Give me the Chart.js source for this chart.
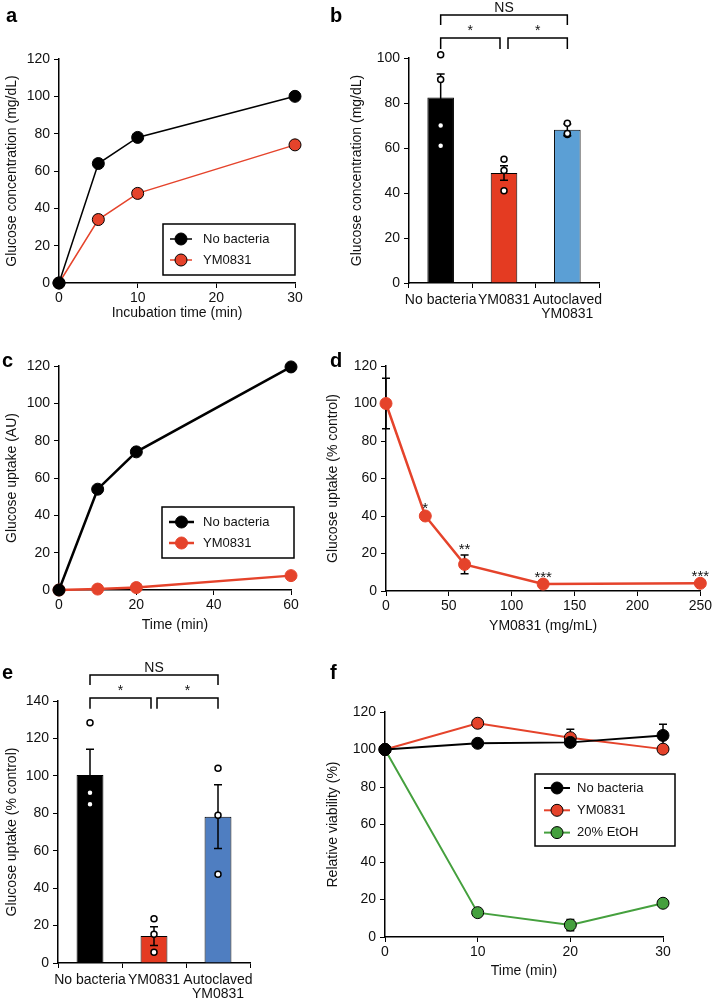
<!DOCTYPE html>
<html>
<head>
<meta charset="utf-8">
<script src="https://cdn.jsdelivr.net/npm/chart.js@4.4.1/dist/chart.umd.min.js"></script>
<style>
  html, body { margin: 0; padding: 0; background: #fff; }
  #fig { position: relative; width: 714px; height: 1002px; overflow: hidden; }
  #fig canvas { position: absolute; }
  .tag { position: absolute; font: bold 20px 'Liberation Sans', Arial, sans-serif; line-height: 20px; color: #000; }
</style>
</head>
<body>
<div id="fig">
  <canvas id="chartA"></canvas>
  <canvas id="chartB"></canvas>
  <canvas id="chartC"></canvas>
  <canvas id="chartD"></canvas>
  <canvas id="chartE"></canvas>
  <canvas id="chartF"></canvas>
  <div class="tag" style="left:6px;top:5px">a</div>
  <div class="tag" style="left:330px;top:5px">b</div>
  <div class="tag" style="left:2px;top:350px">c</div>
  <div class="tag" style="left:330px;top:350px">d</div>
  <div class="tag" style="left:2px;top:662px">e</div>
  <div class="tag" style="left:330px;top:662px">f</div>
</div>
<script>
// ---- data ----
// a: glucose in medium
const timeA = [0, 5, 10, 30];
const glucoseNoBacteriaA = [0, 64, 78, 100];
const glucoseYM0831A = [0, 34, 48, 74];

// b: glucose after incubation
const groups = ['No bacteria', 'YM0831', 'Autoclaved\nYM0831'];
const meanB = [82.5, 48.9, 68.1];
const semB = [10.4, 3.2, 2.6];
const dotsNoBacteriaB = [101.5, 90.5, 70, 61];
const dotsYM0831B = [55, 50, 41];
const dotsAutoclavedB = [71, 66, 66.5];

// c: glucose uptake time course
const timeC = [0, 10, 20, 60];
const uptakeNoBacteriaC = [0, 54, 74, 119.5];
const uptakeYM0831C = [0, 0.5, 1.3, 7.7];

// d: dose response
const doseD = [0, 31.25, 62.5, 125, 250];
const uptakeD = [100, 40, 14.2, 3.7, 4.1];
const semD = [13.5, 1, 5, 0.5, 0.5];
const starsD = ['', '*', '**', '***', '***'];

// e: glucose uptake
const meanE = [100.5, 14.4, 78.2];
const semE = [13.7, 5, 17];
const dotsNoBacteriaE = [128.4, 91, 84.8];
const dotsYM0831E = [23.7, 15.3, 5.7];
const dotsAutoclavedE = [104, 78.9, 47.4];

// f: viability
const timeF = [0, 10, 20, 30];
const viabNoBacteriaF = [100, 103.3, 103.8, 107.5];
const viabYM0831F = [100, 114, 106.3, 100.2];
const viabEtOHF = [100, 13, 6.4, 18];
const semNoBacteriaF = [0, 1.5, 1.5, 6];
const semYM0831F = [0, 1.5, 4.5, 1.5];
const semEtOHF = [0, 1, 3, 1];

// ---- styling ----
const FONT = "'Liberation Sans', Arial, Helvetica, sans-serif";
Chart.defaults.font.family = FONT;
Chart.defaults.font.size = 14;
Chart.defaults.color = '#111';
Chart.defaults.animation = false;

const BLACK = '#000000';
const RED = '#e5432b';
const RED_BAR = '#e43b22';
const BLUE_B = '#5b9fd5';
const BLUE_E = '#4f7ec1';
const GREEN = '#45a03e';

// significance brackets (levels in axis units)
const bracketsB = [
  { from: 0, to: 2, level: 119.1, drop: 4.4, text: 'NS' },
  { from: 0, to: 1, insetTo: 4, level: 108.9, drop: 4.9, text: '*' },
  { from: 1, to: 2, insetFrom: 4, level: 108.9, drop: 4.9, text: '*' }
];
const bracketsE = [
  { from: 0, to: 2, level: 153.9, drop: 5.3, text: 'NS' },
  { from: 0, to: 1, insetTo: 3, level: 141.6, drop: 5.8, text: '*' },
  { from: 1, to: 2, insetFrom: 3, level: 141.6, drop: 5.8, text: '*' }
];

function place(id, box, area) {
  const c = document.getElementById(id);
  c.width = box.w; c.height = box.h;
  c.style.left = box.x + 'px'; c.style.top = box.y + 'px';
  return {
    canvas: c,
    padding: { left: 0, top: area.y0 - box.y, right: box.x + box.w - area.x1, bottom: 0 },
    yWidth: area.x0 - box.x,
    xHeight: box.y + box.h - area.y1
  };
}

function axis(fit, dir, o) {
  const s = {
    type: o.type || 'linear',
    offset: !!o.offset,
    border: { display: true, color: '#000', width: 1.5 },
    grid: { drawOnChartArea: false, drawTicks: true, tickLength: 5, color: '#000', lineWidth: 1, offset: !!o.offset },
    ticks: { color: '#111', font: { size: 14 }, padding: dir === 'x' ? 2 : 4, maxRotation: 0, autoSkip: false },
    title: { display: !!o.title, text: o.title || '', color: '#111', font: { size: 14 }, padding: { top: 4, bottom: 4 } },
    afterFit: dir === 'x' ? (sc) => { sc.height = fit.xHeight; } : (sc) => { sc.width = fit.yWidth; }
  };
  if (o.min !== undefined) s.min = o.min;
  if (o.max !== undefined) s.max = o.max;
  if (o.step !== undefined) s.ticks.stepSize = o.step;
  if (o.type === 'category') {
    s.ticks.padding = 5;
    s.ticks.font = { size: 14, lineHeight: 1.0 };
    s.ticks.callback = function (v) { return this.getLabelForValue(v).split('\n'); };
  }
  return s;
}

function lineSet(label, xs, ys, color, extra) {
  return Object.assign({
    label: label,
    data: xs.map((x, i) => ({ x: x, y: ys[i] })),
    borderColor: color, backgroundColor: color,
    pointBackgroundColor: color, pointBorderColor: '#000', pointBorderWidth: 1,
    pointRadius: 6, borderWidth: 1.5, clip: false, tension: 0
  }, extra || {});
}

function dotSet(lists) {
  const pts = [];
  lists.forEach((vals, i) => vals.forEach(v => pts.push({ x: groups[i], y: v })));
  return {
    type: 'scatter', label: 'points', data: pts,
    pointRadius: 3, pointBackgroundColor: '#fff', pointBorderColor: '#000', pointBorderWidth: 1.5,
    order: 1, clip: false
  };
}

function barSet(means, colors) {
  return {
    type: 'bar', label: 'mean', data: means,
    backgroundColor: colors, borderColor: '#000', borderWidth: 1,
    barPercentage: 0.42, categoryPercentage: 1, order: 2
  };
}

// ---- plugins ----
function drawErr(chart, set) {
  const meta = chart.getDatasetMeta(set.dataset);
  const ys = chart.scales.y, ctx = chart.ctx;
  const vals = chart.data.datasets[set.dataset].data;
  ctx.save();
  ctx.strokeStyle = set.color || '#000';
  ctx.lineWidth = 1.5;
  meta.data.forEach((el, i) => {
    const e = set.err[i];
    if (!e) return;
    const v = typeof vals[i] === 'object' ? vals[i].y : vals[i];
    const top = ys.getPixelForValue(v + e), bot = ys.getPixelForValue(v - e);
    const x = el.x, cap = set.cap || 4;
    ctx.beginPath();
    ctx.moveTo(x, top); ctx.lineTo(x, bot);
    ctx.moveTo(x - cap, top); ctx.lineTo(x + cap, top);
    ctx.moveTo(x - cap, bot); ctx.lineTo(x + cap, bot);
    ctx.stroke();
  });
  ctx.restore();
}

const errorBars = {
  id: 'errorBars',
  beforeDatasetsDraw(chart, args, o) {
    if (o.behind && o.sets) o.sets.forEach(s => drawErr(chart, s));
  },
  afterDatasetDraw(chart, args, o) {
    if (!o.behind && o.sets) o.sets.filter(s => s.dataset === args.index).forEach(s => drawErr(chart, s));
  }
};

const brackets = {
  id: 'brackets',
  afterDraw(chart, args, o) {
    if (!o.items) return;
    const xs = chart.scales.x, ys = chart.scales.y, ctx = chart.ctx;
    ctx.save();
    ctx.strokeStyle = '#000'; ctx.lineWidth = 1.5;
    ctx.fillStyle = '#111'; ctx.font = '14px ' + FONT;
    ctx.textAlign = 'center'; ctx.textBaseline = 'alphabetic';
    o.items.forEach(b => {
      const x1 = xs.getPixelForValue(b.from) + (b.insetFrom || 0);
      const x2 = xs.getPixelForValue(b.to) - (b.insetTo || 0);
      const yl = ys.getPixelForValue(b.level), yd = ys.getPixelForValue(b.level - b.drop);
      ctx.beginPath();
      ctx.moveTo(x1, yd); ctx.lineTo(x1, yl); ctx.lineTo(x2, yl); ctx.lineTo(x2, yd);
      ctx.stroke();
      ctx.fillText(b.text, (x1 + x2) / 2, yl - 3);
    });
    ctx.restore();
  }
};

const starLabels = {
  id: 'starLabels',
  afterDatasetsDraw(chart, args, o) {
    if (!o.labels) return;
    const meta = chart.getDatasetMeta(0), ys = chart.scales.y, ctx = chart.ctx;
    const data = chart.data.datasets[0].data;
    ctx.save();
    ctx.fillStyle = '#111'; ctx.font = '15px ' + FONT;
    ctx.textAlign = 'center'; ctx.textBaseline = 'alphabetic';
    meta.data.forEach((el, i) => {
      if (!o.labels[i]) return;
      const y = ys.getPixelForValue(data[i].y + o.err[i]) - 1;
      ctx.fillText(o.labels[i], el.x, y);
    });
    ctx.restore();
  }
};

const boxLegend = {
  id: 'boxLegend',
  afterDraw(chart, args, o) {
    if (!o.box) return;
    const ctx = chart.ctx, ca = chart.chartArea;
    const x = ca.left + o.box[0], y = ca.top + o.box[1];
    ctx.save();
    ctx.fillStyle = '#fff';
    ctx.fillRect(x, y, o.box[2], o.box[3]);
    ctx.strokeStyle = '#000'; ctx.lineWidth = 1.5;
    ctx.strokeRect(x, y, o.box[2], o.box[3]);
    chart.data.datasets.forEach((ds, i) => {
      const cy = y + o.first + i * o.rowH;
      const lx = x + o.pad;
      ctx.strokeStyle = ds.borderColor; ctx.lineWidth = ds.borderWidth;
      ctx.beginPath(); ctx.moveTo(lx, cy); ctx.lineTo(lx + o.lineLen, cy); ctx.stroke();
      ctx.beginPath(); ctx.arc(lx + o.lineLen / 2, cy, ds.pointRadius, 0, Math.PI * 2);
      ctx.fillStyle = ds.pointBackgroundColor; ctx.fill();
      ctx.lineWidth = ds.pointBorderWidth; ctx.strokeStyle = ds.pointBorderColor; ctx.stroke();
      ctx.fillStyle = '#111'; ctx.font = '13px ' + FONT; ctx.textBaseline = 'middle'; ctx.textAlign = 'left';
      ctx.fillText(ds.label, lx + o.lineLen + o.gap, cy);
    });
    ctx.restore();
  }
};

const allPlugins = [errorBars, brackets, starLabels, boxLegend];

function opts(fit, scales, extra) {
  return {
    responsive: false,
    animation: false,
    layout: { padding: fit.padding },
    scales: scales,
    plugins: Object.assign({ legend: { display: false }, tooltip: { enabled: false } }, extra || {})
  };
}

// ---- a ----
const fitA = place('chartA', { x: 0, y: 0, w: 320, h: 326 }, { x0: 59, y0: 59, x1: 295, y1: 283 });
new Chart(fitA.canvas, {
  type: 'line',
  data: { datasets: [
    lineSet('No bacteria', timeA, glucoseNoBacteriaA, BLACK),
    lineSet('YM0831', timeA, glucoseYM0831A, RED)
  ] },
  options: opts(fitA, {
    x: axis(fitA, 'x', { min: 0, max: 30, step: 10, title: 'Incubation time (min)' }),
    y: axis(fitA, 'y', { min: 0, max: 120, step: 20, title: 'Glucose concentration (mg/dL)' })
  }, { boxLegend: { box: [104, 165, 132, 51], first: 15, rowH: 21, pad: 7, lineLen: 22, gap: 11 } }),
  plugins: allPlugins
});

// ---- b ----
const fitB = place('chartB', { x: 345, y: 0, w: 369, h: 322 }, { x0: 409, y0: 58, x1: 599, y1: 283 });
new Chart(fitB.canvas, {
  type: 'bar',
  data: { labels: groups, datasets: [
    barSet(meanB, [BLACK, RED_BAR, BLUE_B]),
    dotSet([dotsNoBacteriaB, dotsYM0831B, dotsAutoclavedB])
  ] },
  options: opts(fitB, {
    x: axis(fitB, 'x', { type: 'category', offset: true }),
    y: axis(fitB, 'y', { min: 0, max: 100, step: 20, title: 'Glucose concentration (mg/dL)' })
  }, { errorBars: { behind: false, sets: [{ dataset: 0, err: semB }] }, brackets: { items: bracketsB } }),
  plugins: allPlugins
});

// ---- c ----
const fitC = place('chartC', { x: 0, y: 330, w: 320, h: 308 }, { x0: 59, y0: 366, x1: 291, y1: 590 });
new Chart(fitC.canvas, {
  type: 'line',
  data: { datasets: [
    lineSet('No bacteria', timeC, uptakeNoBacteriaC, BLACK, { borderWidth: 2.5 }),
    lineSet('YM0831', timeC, uptakeYM0831C, RED, { borderWidth: 2.5, pointBorderColor: RED })
  ] },
  options: opts(fitC, {
    x: axis(fitC, 'x', { min: 0, max: 60, step: 20, title: 'Time (min)' }),
    y: axis(fitC, 'y', { min: 0, max: 120, step: 20, title: 'Glucose uptake (AU)' })
  }, { boxLegend: { box: [103, 141, 132, 51], first: 15, rowH: 21, pad: 7, lineLen: 25, gap: 9 } }),
  plugins: allPlugins
});

// ---- d ----
const fitD = place('chartD', { x: 321, y: 330, w: 393, h: 309 }, { x0: 386, y0: 366, x1: 702, y1: 591 });
new Chart(fitD.canvas, {
  type: 'line',
  data: { datasets: [
    lineSet('YM0831', doseD, uptakeD, RED, { borderWidth: 2.5, pointBorderColor: RED })
  ] },
  options: opts(fitD, {
    x: axis(fitD, 'x', { min: 0, max: 250, step: 50, title: 'YM0831 (mg/mL)' }),
    y: axis(fitD, 'y', { min: 0, max: 120, step: 20, title: 'Glucose uptake (% control)' })
  }, {
    errorBars: { behind: true, sets: [{ dataset: 0, err: semD }] },
    starLabels: { labels: starsD, err: semD }
  }),
  plugins: allPlugins
});

// ---- e ----
const fitE = place('chartE', { x: 0, y: 650, w: 320, h: 352 }, { x0: 58, y0: 701, x1: 250, y1: 963 });
new Chart(fitE.canvas, {
  type: 'bar',
  data: { labels: groups, datasets: [
    barSet(meanE, [BLACK, RED_BAR, BLUE_E]),
    dotSet([dotsNoBacteriaE, dotsYM0831E, dotsAutoclavedE])
  ] },
  options: opts(fitE, {
    x: axis(fitE, 'x', { type: 'category', offset: true }),
    y: axis(fitE, 'y', { min: 0, max: 140, step: 20, title: 'Glucose uptake (% control)' })
  }, { errorBars: { behind: false, sets: [{ dataset: 0, err: semE }] }, brackets: { items: bracketsE } }),
  plugins: allPlugins
});

// ---- f ----
const fitF = place('chartF', { x: 321, y: 650, w: 393, h: 334 }, { x0: 385, y0: 712, x1: 663, y1: 937 });
new Chart(fitF.canvas, {
  type: 'line',
  data: { datasets: [
    lineSet('No bacteria', timeF, viabNoBacteriaF, BLACK, { borderWidth: 2 }),
    lineSet('YM0831', timeF, viabYM0831F, RED, { borderWidth: 2 }),
    lineSet('20% EtOH', timeF, viabEtOHF, GREEN, { borderWidth: 2 })
  ] },
  options: opts(fitF, {
    x: axis(fitF, 'x', { min: 0, max: 30, step: 10, title: 'Time (min)' }),
    y: axis(fitF, 'y', { min: 0, max: 120, step: 20, title: 'Relative viability (%)' })
  }, {
    errorBars: { behind: true, sets: [
      { dataset: 0, err: semNoBacteriaF },
      { dataset: 1, err: semYM0831F },
      { dataset: 2, err: semEtOHF }
    ] },
    boxLegend: { box: [150, 62, 140, 72], first: 14, rowH: 22.3, pad: 9, lineLen: 26, gap: 7 }
  }),
  plugins: allPlugins
});
</script>
</body>
</html>
